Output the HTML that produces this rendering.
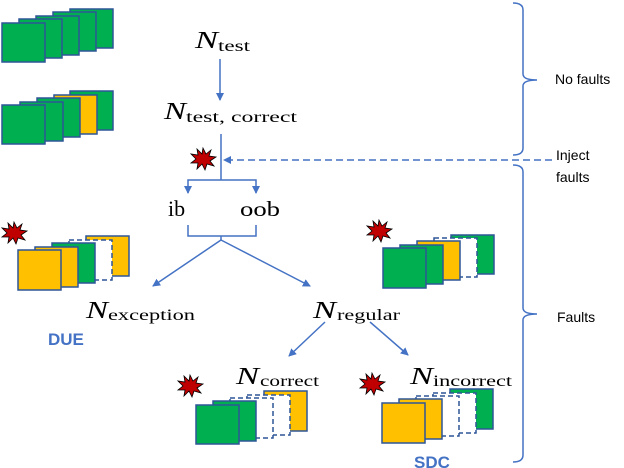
<!DOCTYPE html>
<html><head><meta charset="utf-8"><style>
html,body{margin:0;padding:0;background:#fff;}
svg{display:block;}
.s{font-family:"Liberation Serif",serif;fill:#000;}
.c{font-family:"Liberation Sans",sans-serif;}
</style></head><body>
<svg width="624" height="468" viewBox="0 0 624 468" xmlns="http://www.w3.org/2000/svg">
<defs>
<marker id="a" markerWidth="8" markerHeight="8" refX="7" refY="4" orient="auto" markerUnits="userSpaceOnUse"><path d="M0,0 L8,4 L0,8 Z" fill="#4472c4"/></marker>
<g id="star"><polygon points="0,-11 3,-5 8,-9 6,-3 13,-2 7,2 11,7 4,5 2,11 -1,5 -6,10 -5,4 -12,4 -7,0 -12,-5 -5,-4 -6,-10 -1,-5" fill="#c00000" stroke="#000" stroke-width="0.8"/></g>
</defs>
<g stroke="#2f5597" stroke-width="1.5">
<rect x="70" y="9" width="43" height="39" fill="#00b050"/>
<rect x="53" y="12" width="43" height="39" fill="#00b050"/>
<rect x="36" y="16" width="43" height="39" fill="#00b050"/>
<rect x="19" y="19" width="43" height="39" fill="#00b050"/>
<rect x="2" y="23" width="43" height="39" fill="#00b050"/>
<rect x="70" y="91" width="43" height="39" fill="#00b050"/>
<rect x="54" y="95" width="43" height="39" fill="#ffc000"/>
<rect x="37" y="98" width="43" height="39" fill="#00b050"/>
<rect x="20" y="102" width="43" height="39" fill="#00b050"/>
<rect x="2" y="105" width="43" height="39" fill="#00b050"/>
<rect x="86" y="236" width="43" height="40" fill="#ffc000"/>
<rect x="69" y="240" width="43" height="40" fill="#fff" stroke-dasharray="5,3"/>
<rect x="52" y="243" width="43" height="40" fill="#00b050"/>
<rect x="35" y="247" width="43" height="40" fill="#ffc000"/>
<rect x="18" y="250" width="43" height="40" fill="#ffc000"/>
<rect x="451" y="235" width="43" height="39" fill="#00b050"/>
<rect x="434" y="238" width="43" height="39" fill="#fff" stroke-dasharray="5,3"/>
<rect x="417" y="241" width="43" height="39" fill="#ffc000"/>
<rect x="400" y="245" width="43" height="39" fill="#00b050"/>
<rect x="383" y="248" width="43" height="40" fill="#00b050"/>
<rect x="264" y="391" width="43" height="40" fill="#ffc000"/>
<rect x="247" y="395" width="43" height="40" fill="#fff" stroke-dasharray="5,3"/>
<rect x="230" y="398" width="43" height="40" fill="#fff" stroke-dasharray="5,3"/>
<rect x="213" y="401" width="43" height="40" fill="#00b050"/>
<rect x="196" y="405" width="43" height="39" fill="#00b050"/>
<rect x="450" y="389" width="43" height="40" fill="#00b050"/>
<rect x="433" y="393" width="43" height="40" fill="#fff" stroke-dasharray="5,3"/>
<rect x="416" y="396" width="43" height="40" fill="#fff" stroke-dasharray="5,3"/>
<rect x="399" y="399" width="43" height="40" fill="#ffc000"/>
<rect x="382" y="403" width="43" height="40" fill="#ffc000"/>
</g>
<use href="#star" x="203" y="159"/>
<use href="#star" x="14" y="233"/>
<use href="#star" x="379" y="231"/>
<use href="#star" x="190" y="386"/>
<use href="#star" x="372" y="384"/>
<g stroke="#4472c4" stroke-width="1.5" fill="none">
<line x1="220" y1="59" x2="220" y2="100" marker-end="url(#a)"/>
<line x1="221" y1="134" x2="221" y2="180"/>
<line x1="552" y1="160" x2="224" y2="160" stroke-dasharray="7,4" marker-end="url(#a)"/>
<polyline points="188,192 188,180 256,180 256,192"/>
<line x1="188" y1="186" x2="188" y2="193" marker-end="url(#a)"/>
<line x1="256" y1="186" x2="256" y2="193" marker-end="url(#a)"/>
<polyline points="188,225 188,236 256,236 256,225"/>
<line x1="221" y1="236" x2="221" y2="240"/>
<line x1="221" y1="240" x2="153" y2="286" marker-end="url(#a)"/>
<line x1="221" y1="240" x2="310" y2="286" marker-end="url(#a)"/>
<line x1="325" y1="322" x2="289" y2="356" marker-end="url(#a)"/>
<line x1="370" y1="322" x2="408" y2="355" marker-end="url(#a)"/>
<path d="M513,3 Q523,3 523,10 L523,74 Q523,80 537,80 Q523,80 523,86 L523,148 Q523,155 513,155"/>
<path d="M513,165 Q523,165 523,172 L523,308 Q523,314 537,314 Q523,314 523,320 L523,455 Q523,462 513,462"/>
</g>
<g class="s">
<text x="195" y="48" font-size="24" font-style="italic" textLength="23" lengthAdjust="spacingAndGlyphs">N</text>
<text x="218" y="51" font-size="16" textLength="32" lengthAdjust="spacingAndGlyphs">test</text>
<text x="164" y="119" font-size="24" font-style="italic" textLength="22" lengthAdjust="spacingAndGlyphs">N</text>
<text x="186" y="122" font-size="16" textLength="111" lengthAdjust="spacingAndGlyphs">test, correct</text>
<text x="168" y="216" font-size="22">ib</text>
<text x="240" y="216" font-size="21" textLength="40" lengthAdjust="spacingAndGlyphs">oob</text>
<text x="86" y="318" font-size="24" font-style="italic" textLength="22" lengthAdjust="spacingAndGlyphs">N</text>
<text x="108" y="320" font-size="16" textLength="87" lengthAdjust="spacingAndGlyphs">exception</text>
<text x="313" y="318" font-size="24" font-style="italic" textLength="23" lengthAdjust="spacingAndGlyphs">N</text>
<text x="337" y="320" font-size="16" textLength="63" lengthAdjust="spacingAndGlyphs">regular</text>
<text x="236" y="384" font-size="24" font-style="italic" textLength="23" lengthAdjust="spacingAndGlyphs">N</text>
<text x="260" y="386" font-size="16" textLength="59" lengthAdjust="spacingAndGlyphs">correct</text>
<text x="410" y="384" font-size="24" font-style="italic" textLength="23" lengthAdjust="spacingAndGlyphs">N</text>
<text x="433" y="386" font-size="16" textLength="79" lengthAdjust="spacingAndGlyphs">incorrect</text>
</g>
<g class="c">
<text x="48" y="345" font-size="17" font-weight="bold" fill="#4472c4">DUE</text>
<text x="414" y="468" font-size="17" font-weight="bold" fill="#4472c4">SDC</text>
<text x="555" y="84" font-size="14" fill="#000">No faults</text>
<text x="556" y="160" font-size="14" fill="#000">Inject</text>
<text x="556" y="182" font-size="14" fill="#000">faults</text>
<text x="557" y="322" font-size="14" fill="#000">Faults</text>
</g>
</svg>
</body></html>
